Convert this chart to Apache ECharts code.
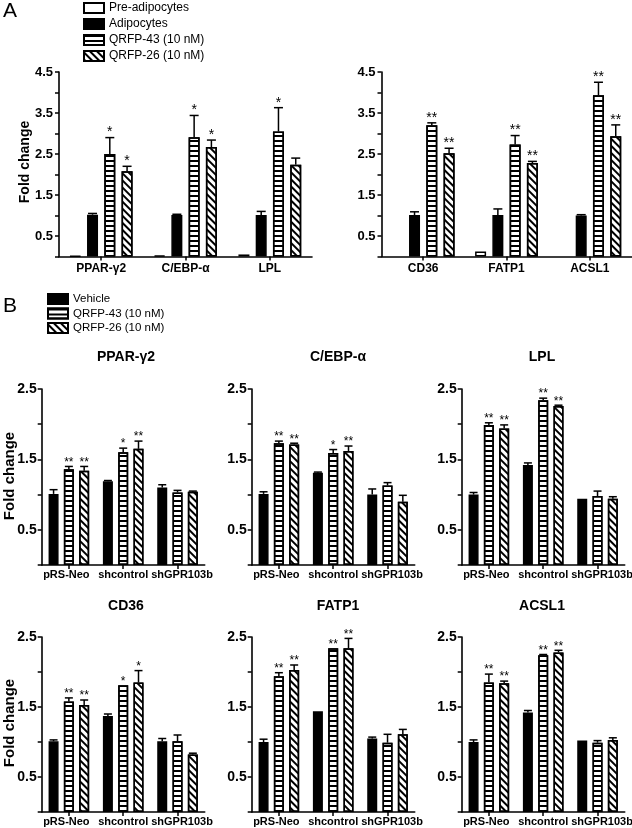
<!DOCTYPE html>
<html><head><meta charset="utf-8">
<script src="https://cdn.jsdelivr.net/npm/echarts@6/dist/echarts.min.js"></script>
<style>html,body{margin:0;padding:0;background:#fff}#c{width:632px;height:828px}</style>
</head><body><div id="c"></div>
<script>
// ---------------- DATA ----------------
const seriesA = ['Pre-adipocytes', 'Adipocytes', 'QRFP-43 (10 nM)', 'QRFP-26 (10 nM)'];
const seriesB = ['Vehicle', 'QRFP-43 (10 nM)', 'QRFP-26 (10 nM)'];
const genesA1 = ['PPAR-γ2', 'C/EBP-α', 'LPL'];
const genesA2 = ['CD36', 'FATP1', 'ACSL1'];
const groupsB = ['pRS-Neo', 'shcontrol', 'shGPR103b'];
const ticksA = [0.5, 1.5, 2.5, 3.5, 4.5];
const ticksB = [0.5, 1.5, 2.5];

// Panel A, rows follow seriesA order
const a1Mean = [[0.01, 0.02, 0.05], [1.02, 1.01, 1.01], [2.50, 2.91, 3.05], [2.08, 2.67, 2.24]];
const a1Err  = [[0, 0, 0], [0.03, 0.02, 0.09], [0.40, 0.53, 0.58], [0.12, 0.17, 0.16]];
const a1Sig  = [['', '', ''], ['', '', ''], ['*', '*', '*'], ['*', '*', '']];
const a2Mean = [[null, 0.12, null], [1.01, 1.01, 1.00], [3.20, 2.73, 3.93], [2.52, 2.28, 2.93]];
const a2Err  = [[0, 0, 0], [0.08, 0.15, 0.02], [0.06, 0.22, 0.32], [0.12, 0.04, 0.28]];
const a2Sig  = [['', '', ''], ['', '', ''], ['**', '**', '**'], ['**', '**', '**']];

// Panel B, rows follow seriesB order
const bTitles = ['PPAR-γ2', 'C/EBP-α', 'LPL', 'CD36', 'FATP1', 'ACSL1'];
const bPparMean = [[1.01, 1.19, 1.10], [1.36, 1.60, 1.03], [1.34, 1.65, 1.04]];
const bPparErr  = [[0.06, 0.01, 0.04], [0.04, 0.06, 0.03], [0.06, 0.11, 0.01]];
const bPparSig  = [['', '', ''], ['**', '*', ''], ['**', '**', '']];
const bCebpMean = [[1.01, 1.31, 1.00], [1.73, 1.59, 1.13], [1.71, 1.62, 0.90]];
const bCebpErr  = [[0.03, 0.01, 0.08], [0.03, 0.05, 0.04], [0.02, 0.07, 0.09]];
const bCebpSig  = [['', '', ''], ['**', '*', ''], ['**', '**', '']];
const bLplMean  = [[1.00, 1.42, 0.94], [1.99, 2.34, 0.98], [1.94, 2.26, 0.94]];
const bLplErr   = [[0.03, 0.03, 0.00], [0.03, 0.03, 0.07], [0.05, 0.01, 0.03]];
const bLplSig   = [['', '', ''], ['**', '**', ''], ['**', '**', '']];
const bCd36Mean = [[1.01, 1.37, 1.01], [1.58, 1.81, 1.01], [1.53, 1.85, 0.82]];
const bCd36Err  = [[0.02, 0.03, 0.04], [0.05, 0.00, 0.09], [0.07, 0.17, 0.02]];
const bCd36Sig  = [['', '', ''], ['**', '*', ''], ['**', '*', '']];
const bFatpMean = [[1.00, 1.44, 1.05], [1.94, 2.34, 0.99], [2.03, 2.34, 1.11]];
const bFatpErr  = [[0.04, 0.00, 0.02], [0.05, 0.00, 0.12], [0.07, 0.14, 0.07]];
const bFatpSig  = [['', '', ''], ['**', '**', ''], ['**', '**', '']];
const bAcslMean = [[1.00, 1.42, 1.02], [1.85, 2.24, 0.99], [1.84, 2.28, 1.03]];
const bAcslErr  = [[0.03, 0.03, 0.00], [0.12, 0.01, 0.03], [0.03, 0.03, 0.03]];
const bAcslSig  = [['', '', ''], ['**', '**', ''], ['**', '**', '']];

// ---------------- STYLE ----------------
const FF = 'Liberation Sans, Arial, Helvetica, sans-serif';
const decalH = { symbol: 'rect', symbolSize: 1, dashArrayX: [1, 0], dashArrayY: [2, 2.5], rotation: 0, color: '#000' };
const decalD = { symbol: 'rect', symbolSize: 1, dashArrayX: [1, 0], dashArrayY: [2, 3], rotation: Math.PI / 4, color: '#000' };
const styleWhite = { color: '#fff', borderColor: '#000', borderWidth: 1.5 };
const styleBlack = { color: '#000', borderColor: '#000', borderWidth: 1.5 };
const styleH = { color: '#fff', borderColor: '#000', borderWidth: 1.5, decal: decalH };
const styleD = { color: '#fff', borderColor: '#000', borderWidth: 1.5, decal: decalD };

const grids = [], xAxes = [], yAxes = [], series = [], graphics = [];

function addPanel(g, cats, names, styles, means, errs, sigs, max, ticks, cfg) {
  const idx = grids.length;
  grids.push({ left: g.left, top: g.top, width: g.width, height: g.height, containLabel: false, outerBoundsMode: 'none' });
  const labelFont = { color: '#000', fontFamily: FF, fontWeight: 'bold', fontSize: cfg.xFont };
  xAxes.push({
    type: 'category', gridIndex: idx, data: cats,
    axisLine: { lineStyle: { color: '#000', width: 1.6 } },
    axisTick: { show: true, alignWithLabel: true, length: 4, lineStyle: { color: '#000', width: 1.5 } },
    axisLabel: Object.assign({
      interval: 0, hideOverlap: false, margin: cfg.xMargin,
      formatter: v => cfg.shift && cfg.shift[v] ? '{' + cfg.shift[v] + '|' + v + '}' : v,
      rich: {
        r: Object.assign({ padding: [0, 0, 0, 9] }, labelFont),
        l: Object.assign({ padding: [0, 5, 0, 0] }, labelFont)
      }
    }, labelFont)
  });
  yAxes.push({
    type: 'value', gridIndex: idx, min: 0, max: max, interval: 0.5,
    splitLine: { show: false },
    axisLine: { show: true, lineStyle: { color: '#000', width: 1.6 } },
    axisTick: { show: true, length: 4, lineStyle: { color: '#000', width: 1.5 } },
    axisLabel: {
      color: '#000', fontFamily: FF, fontWeight: 'bold', fontSize: cfg.yFont, margin: cfg.yMargin,
      formatter: v => ticks.some(t => Math.abs(t - v) < 1e-6) ? v.toFixed(1) : ''
    }
  });
  const n = names.length;
  const step = cfg.bw * (1 + cfg.gap);
  names.forEach((nm, k) => {
    series.push({
      type: 'bar', name: nm, xAxisIndex: idx, yAxisIndex: idx,
      barWidth: cfg.bw, barGap: (cfg.gap * 100) + '%', barCategoryGap: '10%',
      itemStyle: styles[k], data: means[k], z: 2, silent: true
    });
    const sg = sigs[k];
    series.push({
      type: 'custom', name: nm + '_err', xAxisIndex: idx, yAxisIndex: idx, z: 5, silent: true, clip: false,
      data: means[k].map((m, i) => [i, m, errs[k][i]]),
      renderItem: function (params, api) {
        const v = api.value(1);
        if (v == null || isNaN(v)) return;
        const e = api.value(2);
        const ci = api.value(0);
        const b = api.coord([ci, v]);
        const t = api.coord([ci, v + e]);
        const x = b[0] + (k - (n - 1) / 2) * step;
        const children = [];
        if (e > 0) {
          children.push({ type: 'line', shape: { x1: x, y1: b[1], x2: x, y2: t[1] }, style: { stroke: '#000', lineWidth: 1.5 } });
          children.push({ type: 'line', shape: { x1: x - cfg.cap / 2, y1: t[1], x2: x + cfg.cap / 2, y2: t[1] }, style: { stroke: '#000', lineWidth: 1.5 } });
        }
        const s = sg[params.dataIndex];
        if (s) {
          children.push({ type: 'text', x: x, y: t[1] + cfg.starDy, style: { text: s, align: 'center', verticalAlign: 'bottom', fill: '#000', font: cfg.starFont + 'px ' + FF } });
        }
        return { type: 'group', children: children };
      }
    });
  });
}

const cfgA = { bw: 11, gap: 0.57, cap: 9, xFont: 12, xMargin: 6, yFont: 13, yMargin: 6, starFont: 14, starDy: 2 };
const cfgB = { bw: 10, gap: 0.53, cap: 8, xFont: 11, xMargin: 4, yFont: 14, yMargin: 5, starFont: 12, starDy: 2,
  shift: { 'shGPR103b': 'r', 'pRS-Neo': 'l' } };
const stylesA = [styleWhite, styleBlack, styleH, styleD];
const stylesB = [styleBlack, styleH, styleD];

addPanel({ left: 59, top: 72, width: 253, height: 184.5 }, genesA1, seriesA, stylesA, a1Mean, a1Err, a1Sig, 4.5, ticksA, cfgA);
addPanel({ left: 381.5, top: 72, width: 250, height: 184.5 }, genesA2, seriesA, stylesA, a2Mean, a2Err, a2Sig, 4.5, ticksA, cfgA);

const bMeans = [bPparMean, bCebpMean, bLplMean, bCd36Mean, bFatpMean, bAcslMean];
const bErrs = [bPparErr, bCebpErr, bLplErr, bCd36Err, bFatpErr, bAcslErr];
const bSigs = [bPparSig, bCebpSig, bLplSig, bCd36Sig, bFatpSig, bAcslSig];
const colLeft = [41.7, 251.7, 461.7];
const rowTop = [389, 637];
const rowH = [176, 175];
const titleX = [126, 338, 542];
const titleY = [357, 606];
for (let p = 0; p < 6; p++) {
  const r = Math.floor(p / 3), c = p % 3;
  addPanel({ left: colLeft[c], top: rowTop[r], width: 163, height: rowH[r] }, groupsB, seriesB, stylesB, bMeans[p], bErrs[p], bSigs[p], 2.5, ticksB, cfgB);
  graphics.push({ type: 'text', x: titleX[c], y: titleY[r], style: { text: bTitles[p], align: 'center', verticalAlign: 'middle', fill: '#000', font: 'bold 14px ' + FF } });
}

// y-axis names & panel letters
graphics.push({ type: 'text', x: 25, y: 162, rotation: Math.PI / 2, style: { text: 'Fold change', align: 'center', verticalAlign: 'middle', fill: '#000', font: 'bold 14px ' + FF } });
graphics.push({ type: 'text', x: 10, y: 476, rotation: Math.PI / 2, style: { text: 'Fold change', align: 'center', verticalAlign: 'middle', fill: '#000', font: 'bold 15px ' + FF } });
graphics.push({ type: 'text', x: 10, y: 723, rotation: Math.PI / 2, style: { text: 'Fold change', align: 'center', verticalAlign: 'middle', fill: '#000', font: 'bold 15px ' + FF } });
graphics.push({ type: 'text', x: 3, y: 11, style: { text: 'A', align: 'left', verticalAlign: 'middle', fill: '#000', font: '21px ' + FF } });
graphics.push({ type: 'text', x: 3, y: 306, style: { text: 'B', align: 'left', verticalAlign: 'middle', fill: '#000', font: '21px ' + FF } });

const option = {
  animation: false,
  backgroundColor: '#fff',
  grid: grids, xAxis: xAxes, yAxis: yAxes, series: series,
  graphic: graphics,
  legend: [
    { data: seriesA, orient: 'vertical', left: 83, top: 2, padding: 0, itemWidth: 20, itemHeight: 10, itemGap: 4, icon: 'rect', selectedMode: false,
      textStyle: { color: '#000', fontFamily: FF, fontSize: 12 } },
    { data: seriesB, orient: 'vertical', left: 47, top: 293, padding: 0, itemWidth: 20, itemHeight: 10, itemGap: 2.5, icon: 'rect', selectedMode: false,
      textStyle: { color: '#000', fontFamily: FF, fontSize: 11.5 } }
  ]
};
const chart = echarts.init(document.getElementById('c'), null, { renderer: 'canvas' });
chart.setOption(option);
</script></body></html>
